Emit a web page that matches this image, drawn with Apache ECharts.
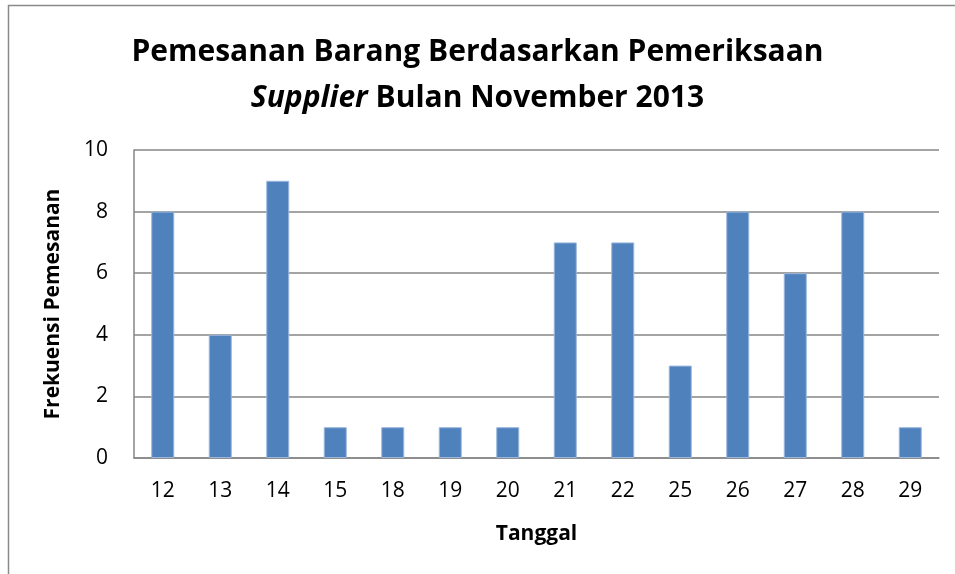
<!DOCTYPE html>
<html>
<head>
<meta charset="utf-8">
<script src="https://cdn.jsdelivr.net/npm/echarts@6/dist/echarts.min.js"></script>
<style>
  html, body { margin: 0; padding: 0; background: #fff; }
  #chart { width: 955px; height: 574px; }
</style>
</head>
<body>
<div id="chart"></div>
<script>
const tanggal = ['12', '13', '14', '15', '18', '19', '20', '21', '22', '25', '26', '27', '28', '29'];
const frekuensi = [8, 4, 9, 1, 1, 1, 1, 7, 7, 3, 8, 6, 8, 1];

const chart = echarts.init(document.getElementById('chart'));
const fontName = 'Open Sans';

chart.setOption({
    animation: false,
    backgroundColor: '#fff',
    graphic: [{
        type: 'rect',
        shape: { x: 8.5, y: 5.5, width: 1000, height: 1000 },
        style: { fill: 'none', stroke: '#8a8a8a', lineWidth: 1.5 }
    }],
    title: {
        left: 'center',
        top: 24,
        text: '{b|Pemesanan Barang Berdasarkan Pemeriksaan}\n{i|Supplier}{b| Bulan November 2013}',
        textStyle: {
            rich: {
                b: { fontFamily: fontName, fontWeight: 'bold', fontSize: 30, color: '#000', lineHeight: 46 },
                i: { fontFamily: fontName, fontWeight: 'bold', fontStyle: 'italic', fontSize: 30, color: '#000', lineHeight: 46 }
            }
        }
    },
    grid: { left: 134, right: 16, top: 150, bottom: 116 },
    xAxis: {
        type: 'category',
        data: tanggal,
        name: 'Tanggal',
        nameLocation: 'middle',
        nameGap: 66,
        nameTextStyle: { fontFamily: fontName, fontWeight: 'bold', fontSize: 21, color: '#000' },
        axisLine: { lineStyle: { color: '#868686', width: 1.5 } },
        axisTick: { show: false },
        axisLabel: { fontFamily: fontName, fontSize: 21, color: '#000', margin: 23 }
    },
    yAxis: {
        type: 'value',
        min: 0,
        max: 10,
        interval: 2,
        name: 'Frekuensi Pemesanan',
        nameLocation: 'middle',
        nameGap: 70,
        nameTextStyle: { fontFamily: fontName, fontWeight: 'bold', fontSize: 21, color: '#000' },
        axisLine: { show: true, lineStyle: { color: '#868686', width: 1.5 } },
        axisTick: { show: false },
        axisLabel: { fontFamily: fontName, fontSize: 21, color: '#000', margin: 26 },
        splitLine: { lineStyle: { color: '#868686', width: 1.5 } }
    },
    series: [{
        type: 'bar',
        data: frekuensi,
        barCategoryGap: '60%',
        itemStyle: { color: '#4F81BD', borderColor: '#9bb7dc', borderWidth: 1 }
    }]
});
</script>
</body>
</html>
